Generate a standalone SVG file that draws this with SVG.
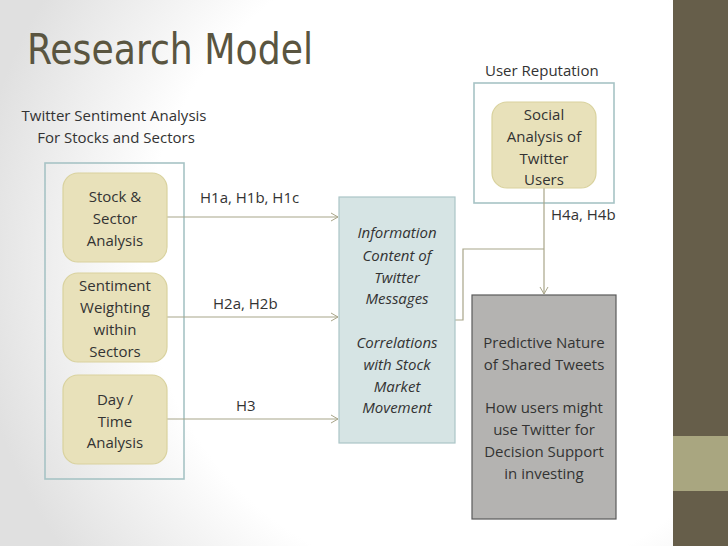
<svg xmlns="http://www.w3.org/2000/svg" width="728" height="546" viewBox="0 0 728 546">
<defs>
<radialGradient id="bg" cx="470" cy="260" r="500" gradientUnits="userSpaceOnUse">
<stop offset="0.65" stop-color="#ffffff"/>
<stop offset="1" stop-color="#e0e0e0"/>
</radialGradient>
<marker id="arr" markerWidth="10" markerHeight="10" refX="8" refY="5" orient="auto" markerUnits="userSpaceOnUse">
<path d="M1,1 L8,5 L1,9" fill="none" stroke="#a8a589" stroke-width="1"/>
</marker>
<style>
.t{font-family:"Open Sans","Liberation Sans",Arial,sans-serif;font-size:15px;fill:#333333;}
.c{text-anchor:middle;}
.i{font-style:italic;}
.node{fill:#e8e1ba;stroke:#d9d29e;stroke-width:1.2;}
.frame{fill:none;stroke:#a7c3c5;stroke-width:1.6;}
.conn{fill:none;stroke:#a8a589;stroke-width:1.2;}
</style>
</defs>
<rect x="0" y="0" width="728" height="546" fill="url(#bg)"/>
<rect x="673" y="0" width="55" height="546" fill="#665e4a"/>
<rect x="673" y="436" width="55" height="55" fill="#a9a680"/>
<text x="27" y="64" font-family="'DejaVu Sans Condensed','Liberation Sans',sans-serif" font-size="43" fill="#5a5540" textLength="286" lengthAdjust="spacingAndGlyphs">Research Model</text>
<text class="t" x="485" y="76">User Reputation</text>
<text class="t c" x="114" y="121">Twitter Sentiment Analysis</text>
<text class="t c" x="116" y="143">For Stocks and Sectors</text>
<rect class="frame" x="45" y="163" width="139" height="316"/>
<rect class="frame" x="474" y="83" width="140" height="120"/>
<g id="connectors">
<line class="conn" x1="167" y1="217" x2="338" y2="217" marker-end="url(#arr)"/>
<line class="conn" x1="167" y1="317" x2="338" y2="317" marker-end="url(#arr)"/>
<line class="conn" x1="167" y1="419" x2="338" y2="419" marker-end="url(#arr)"/>
<polyline class="conn" points="455,320 463,320 463,249 544,249"/>
<line class="conn" x1="544" y1="188" x2="544" y2="294" marker-end="url(#arr)"/>
<text class="t" x="200" y="203">H1a, H1b, H1c</text>
<text class="t" x="213" y="309">H2a, H2b</text>
<text class="t" x="236" y="411">H3</text>
<text class="t" x="551" y="220">H4a, H4b</text>
</g>
<g id="stock">
<rect class="node" x="63" y="173" width="104" height="89" rx="15"/>
<text class="t c" x="115" y="202">Stock &amp;</text>
<text class="t c" x="115" y="224">Sector</text>
<text class="t c" x="115" y="246">Analysis</text>
</g>
<g id="sentiment">
<rect class="node" x="63" y="273" width="104" height="89" rx="15"/>
<text class="t c" x="115" y="291">Sentiment</text>
<text class="t c" x="115" y="313">Weighting</text>
<text class="t c" x="115" y="335">within</text>
<text class="t c" x="115" y="357">Sectors</text>
</g>
<g id="daytime">
<rect class="node" x="63" y="375" width="104" height="89" rx="15"/>
<text class="t c" x="115" y="405">Day /</text>
<text class="t c" x="115" y="427">Time</text>
<text class="t c" x="115" y="448">Analysis</text>
</g>
<g id="social">
<rect class="node" x="492" y="102" width="104" height="86" rx="15"/>
<text class="t c" x="544" y="120">Social</text>
<text class="t c" x="544" y="142">Analysis of</text>
<text class="t c" x="544" y="164">Twitter</text>
<text class="t c" x="544" y="185">Users</text>
</g>
<g id="info">
<rect x="339" y="197" width="116" height="246" fill="#d6e4e4" stroke="#abc5c7" stroke-width="1.2"/>
<text class="t c i" x="397" y="238">Information</text>
<text class="t c i" x="397" y="261">Content of</text>
<text class="t c i" x="397" y="283">Twitter</text>
<text class="t c i" x="397" y="304">Messages</text>
<text class="t c i" x="397" y="348">Correlations</text>
<text class="t c i" x="397" y="370">with Stock</text>
<text class="t c i" x="397" y="392">Market</text>
<text class="t c i" x="397" y="413">Movement</text>
</g>
<g id="predictive">
<rect x="472" y="295" width="144" height="224" fill="#b4b3b1" stroke="#5a5a5a" stroke-width="1.2"/>
<text class="t c" x="544" y="348">Predictive Nature</text>
<text class="t c" x="544" y="370">of Shared Tweets</text>
<text class="t c" x="544" y="413">How users might</text>
<text class="t c" x="544" y="435">use Twitter for</text>
<text class="t c" x="544" y="457">Decision Support</text>
<text class="t c" x="544" y="479">in investing</text>
</g>
</svg>
